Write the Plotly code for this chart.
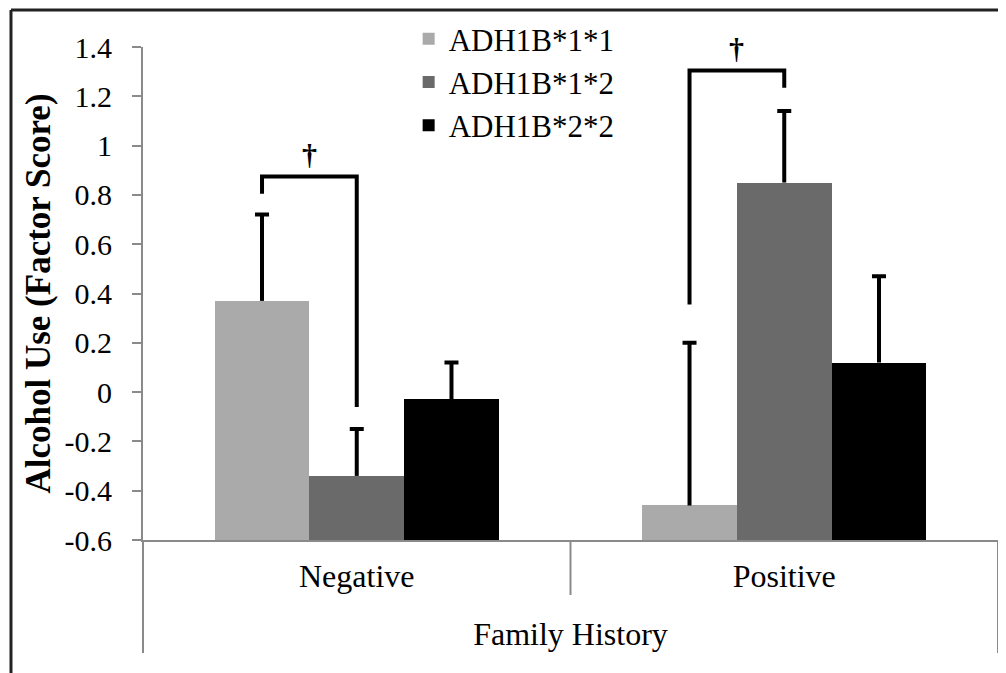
import plotly.graph_objects as go

# ---------------- data ----------------
categories = ["Negative", "Positive"]
series_names = ["ADH1B*1*1", "ADH1B*1*2", "ADH1B*2*2"]
means = {
    "ADH1B*1*1": [0.37, -0.46],
    "ADH1B*1*2": [-0.34, 0.85],
    "ADH1B*2*2": [-0.03, 0.12],
}
upper_err = {
    "ADH1B*1*1": [0.35, 0.66],
    "ADH1B*1*2": [0.19, 0.29],
    "ADH1B*2*2": [0.15, 0.35],
}
colors = ["#aaaaaa", "#6a6a6a", "#000000"]
y_tickvals = [1.4, 1.2, 1.0, 0.8, 0.6, 0.4, 0.2, 0.0, -0.2, -0.4, -0.6]
y_ticktext = ["1.4", "1.2", "1", "0.8", "0.6", "0.4", "0.2", "0", "-0.2", "-0.4", "-0.6"]

# significance brackets: (category index, series a, series b, top level, leg end a, leg end b)
brackets = [
    (0, 0, 1, 0.875, 0.805, -0.06),
    (1, 0, 1, 1.305, 0.355, 1.235),
]
bracket_label = "†"

# ---------------- layout params ----------------
y_min, y_max = -0.6, 1.4
bar_w = 0.2216
FONT = "Liberation Serif"

def center(ci, si):
    return ci + (si - 1) * bar_w

fig = go.Figure()

for si, name in enumerate(series_names):
    xs = [center(ci, si) for ci in range(len(categories))]
    fig.add_trace(go.Bar(
        x=xs, y=[v - y_min for v in means[name]], base=y_min,
        width=bar_w, name=name, marker=dict(color=colors[si], line=dict(width=0)),
        customdata=means[name], hovertemplate="%{customdata}<extra>" + name + "</extra>",
    ))

for si, name in enumerate(series_names):
    xs = [center(ci, si) for ci in range(len(categories))]
    tops = [m + e for m, e in zip(means[name], upper_err[name])]
    # stem (no caps)
    fig.add_trace(go.Scatter(
        x=xs, y=means[name], mode="markers", marker=dict(size=1, opacity=0),
        showlegend=False, hoverinfo="skip",
        error_y=dict(type="data", symmetric=False, array=upper_err[name],
                     arrayminus=[0] * len(xs), color="black", thickness=4, width=0),
    ))
    # cap at the top
    fig.add_trace(go.Scatter(
        x=xs, y=tops, mode="markers", marker=dict(size=1, opacity=0),
        showlegend=False, hoverinfo="skip",
        error_y=dict(type="data", symmetric=True, array=[0] * len(xs),
                     color="black", thickness=4, width=7),
    ))

for ci, sa, sb, top, ea, eb in brackets:
    xa, xb = center(ci, sa), center(ci, sb)
    fig.add_trace(go.Scatter(
        x=[xa, xa, xb, xb], y=[ea, top, top, eb], mode="lines",
        line=dict(color="black", width=4), showlegend=False, hoverinfo="skip",
    ))
    fig.add_annotation(x=(xa + xb) / 2, y=top, text=bracket_label, showarrow=False,
                       yanchor="bottom", yshift=3,
                       font=dict(family=FONT, size=30, color="black", weight="bold"))

axis_gray = "#8a8a8a"
shapes = [
    # outer frame (cut off on right/bottom)
    dict(type="line", xref="paper", yref="paper", x0=-0.1544, x1=-0.1544, y0=-0.4, y1=1.0751,
         line=dict(color="#222222", width=3)),
    dict(type="line", xref="paper", yref="paper", x0=-0.1544, x1=1.05, y0=1.0751, y1=1.0751,
         line=dict(color="#222222", width=3)),
    # category axis box
    dict(type="line", xref="paper", yref="paper", x0=0, x1=0, y0=0, y1=-0.229,
         line=dict(color=axis_gray, width=2)),
    dict(type="line", xref="paper", yref="paper", x0=0.5, x1=0.5, y0=0, y1=-0.1116,
         line=dict(color=axis_gray, width=2)),
    dict(type="line", xref="paper", yref="paper", x0=1, x1=1, y0=0, y1=-0.229,
         line=dict(color=axis_gray, width=2)),
]

fig.update_layout(
    width=998, height=665,
    margin=dict(l=135, r=8, t=39, b=133, autoexpand=False),
    paper_bgcolor="white", plot_bgcolor="white",
    font=dict(family=FONT, color="black"),
    barmode="overlay",
    bargap=0,
    showlegend=True,
    legend=dict(x=0.3107, y=1.071, xanchor="left", yanchor="top",
                font=dict(family=FONT, size=31, color="black"),
                bgcolor="rgba(0,0,0,0)", tracegroupgap=0, itemwidth=30),
    shapes=shapes,
    xaxis=dict(range=[-0.5, 1.5], tickvals=list(range(len(categories))), ticktext=categories,
               showline=True, linecolor=axis_gray, linewidth=2, ticks="", showgrid=False,
               zeroline=False, tickfont=dict(family=FONT, size=32, color="black"),
               ticklabelstandoff=7,
               title=dict(text="Family History", font=dict(family=FONT, size=32, color="black"),
                          standoff=29)),
    yaxis=dict(range=[y_min, y_max], tickvals=y_tickvals, ticktext=y_ticktext,
               showline=True, linecolor=axis_gray, linewidth=2, ticks="outside", ticklen=9,
               tickcolor=axis_gray, tickwidth=2, showgrid=False, zeroline=False,
               tickfont=dict(family=FONT, size=30, color="black"), ticklabelstandoff=14,
               title=dict(text="Alcohol Use (Factor Score)",
                          font=dict(family=FONT, size=35, color="black", weight="bold"),
                          standoff=3)),
)

fig.write_html("out.html")
